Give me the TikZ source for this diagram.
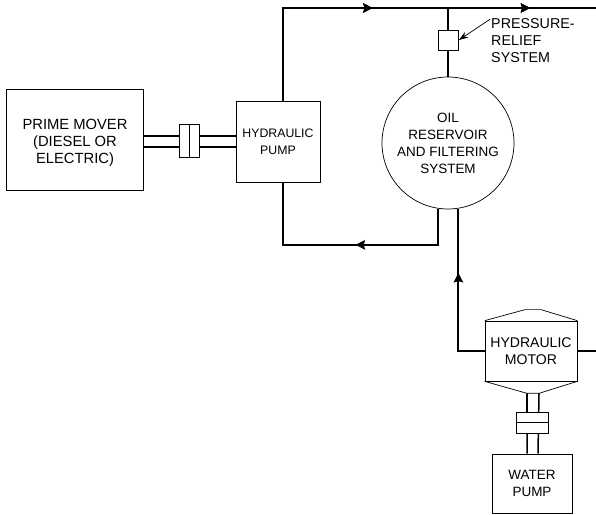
\documentclass[tikz,border=0pt]{standalone}
\usepackage{fontspec}
\setmainfont{Liberation Sans}
\usetikzlibrary{
    arrows.meta,
    positioning,
    calc,
    decorations.markings
}
\tikzset{
    % --- Machine box ---
    block/.style = {
        rectangle, draw, semithick, fill=white,
        font=\fontsize{11.5}{14.5}\selectfont, align=center,
        inner sep=0pt
    },
    % --- Shaft coupling / relief valve ---
    small block/.style = {
        rectangle, draw, semithick, fill=white, inner sep=0pt
    },
    % --- Hydraulic pipe ---
    pipe/.style = {
        line width=1.6pt
    },
    % --- Mechanical shaft line ---
    shaft/.style = {
        line width=1.3pt
    },
    % --- Flow direction arrow on a pipe ---
    flow/.style = {
        postaction={decorate},
        decoration={markings,
            mark=at position #1 with {\arrow{Stealth[length=8pt,width=8pt,inset=1pt]}}}
    },
    % --- Annotation text ---
    annotation/.style = {
        font=\fontsize{12.2}{14.5}\selectfont, align=left,
        inner sep=0pt
    }
}
\begin{document}
\begin{tikzpicture}
\useasboundingbox (0,0) rectangle (17.88,15.42);

% ---------------------------------------------------------
% Main blocks
% ---------------------------------------------------------
\node[block, minimum width=4.11cm, minimum height=3.03cm] (Mover) at (2.25, 11.22) {};
\node[annotation, align=center, font=\fontsize{12.6}{14.5}\selectfont] (MoverText) at ($(Mover)+(0,-0.09)$) {PRIME MOVER\\(DIESEL OR\\ELECTRIC)};
\node[block, minimum width=2.52cm, minimum height=2.43cm, font=\fontsize{10.5}{14.5}\selectfont] (Pump) at (8.34, 11.16) {HYDRAULIC\\PUMP};
\node[block, circle, minimum size=3.96cm] (Oil) at (13.44, 11.13) {OIL\\RESERVOIR\\AND FILTERING\\SYSTEM};
\node[block, minimum width=2.76cm, minimum height=1.8cm, font=\fontsize{12}{14.5}\selectfont] (Motor) at (15.93, 4.89) {HYDRAULIC\\MOTOR};
\node[block, minimum width=2.4cm, minimum height=1.77cm] (Water) at (15.96, 0.915) {WATER\\PUMP};

% Motor end caps
\draw[semithick] (Motor.north west) -- ($(Motor.north)+(-0.18,0.33)$) -- ($(Motor.north)+(0.3,0.33)$) -- (Motor.north east);
\draw[semithick] (Motor.south west) -- ($(Motor.south)+(-0.12,-0.36)$) -- ($(Motor.south)+(0.24,-0.36)$) -- (Motor.south east);

% ---------------------------------------------------------
% Free ends on the right margin
% ---------------------------------------------------------
\coordinate (TopEnd) at (17.88, 15.18);
\coordinate (MotorEnd) at (Motor.east -| TopEnd);
\coordinate (PumpDrop) at ($(Pump.south)+(0.15,-1.86)$);

% ---------------------------------------------------------
% Pipes
% ---------------------------------------------------------
\draw[pipe, flow=0.45, flow=0.838] ($(Pump.north)+(0.15,0)$) |- (TopEnd);
\draw[pipe] (Oil.north) -- (Oil.north |- TopEnd);
\draw[pipe, flow=0.468] (Oil.261) |- (PumpDrop) -- ($(Pump.south)+(0.15,0)$);
\draw[pipe, flow=0.618] (Motor.west) -| (Oil.279);
\draw[shaft] (Motor.east) -- (MotorEnd);

% ---------------------------------------------------------
% Pressure relief
% ---------------------------------------------------------
\node[small block, minimum size=0.6cm] (Relief) at (13.455, 14.22) {};
\node[annotation, anchor=north west] (ReliefText) at (14.73, 14.88) {PRESSURE-\\RELIEF\\SYSTEM};
\draw[-{Stealth[length=8pt,width=5.5pt]}, semithick] ($(ReliefText.north west)+(-0.03,-0.04)$) -- (Relief.east);

% ---------------------------------------------------------
% Shafts and couplings
% ---------------------------------------------------------
\coordinate (CoupA) at (5.67, 11.205);
\coordinate (CoupB) at (15.96, 2.745);

\draw[shaft] ($(Mover.east |- CoupA)+(0,0.135)$) -- ($(Pump.west |- CoupA)+(0,0.135)$);
\draw[shaft] ($(Mover.east |- CoupA)+(0,-0.195)$) -- ($(Pump.west |- CoupA)+(0,-0.195)$);
\node[small block, minimum width=0.6cm, minimum height=0.99cm] (CouplingA) at (CoupA) {};
\draw[thin] (CouplingA.north) -- (CouplingA.south);

\draw[shaft] ($(Motor.south)+(-0.12,-0.36)$) -- ($(Water.north)+(-0.15,0)$);
\draw[shaft] ($(Motor.south)+(0.24,-0.36)$) -- ($(Water.north)+(0.18,0)$);
\node[small block, minimum width=0.96cm, minimum height=0.63cm] (CouplingB) at (CoupB) {};
\draw[thin] (CouplingB.west) -- (CouplingB.east);

\end{tikzpicture}
\end{document}
